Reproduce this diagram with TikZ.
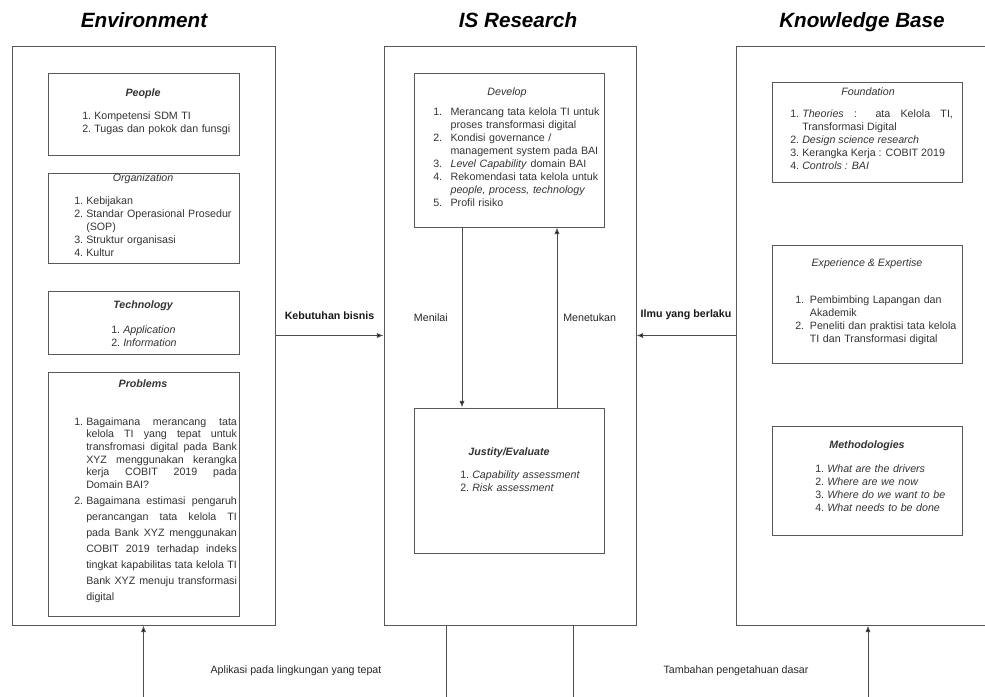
\documentclass[tikz,border=0pt]{standalone}
\usepackage{fontspec}
\setmainfont{Liberation Sans}
\usetikzlibrary{arrows.meta, calc, fit}

\tikzstyle{frame}  = [draw=black!65, line width=0.75pt, inner sep=0pt]
\tikzstyle{head}   = [anchor=base, inner sep=0pt, font=\fontsize{15.5}{19}\selectfont\bfseries\itshape]
\tikzstyle{title}  = [anchor=base, inner sep=0pt, text=black!80, font=\fontsize{8}{10}\selectfont\itshape]
\tikzstyle{btitle} = [title, font=\fontsize{8}{10}\selectfont\bfseries\itshape]
\tikzstyle{list}   = [anchor=base west, inner sep=0pt, align=left, text width=122pt, text=black!80, font=\fontsize{8}{9.75}\selectfont]
\tikzstyle{flow}   = [draw=black!70, line width=0.75pt, -{Latex[length=5pt, width=4pt]}]
\tikzstyle{wire}   = [draw=black!70, line width=0.75pt]
\tikzstyle{lbl}    = [text=black!85, font=\fontsize{8}{10}\selectfont]
\tikzstyle{blbl}   = [text=black!90, font=\fontsize{8}{10}\selectfont\bfseries]

\newlength{\itemind}
\setlength{\itemind}{9pt}
\newcommand{\litem}[2]{\noindent\hangindent=\itemind\hangafter=1\makebox[\itemind][l]{#1.}#2\par}

\begin{document}
\begin{tikzpicture}[x=0.75pt, y=-0.75pt]

\useasboundingbox (0,0) rectangle (985,696);

% headings
\node [head] at (144, 27) (envhead) {Environment};
\node [head] at (518, 27) (ishead)  {IS Research};
\node [head] at (862, 27) (kbhead)  {Knowledge Base};

% outer frames
\node [frame, fit={(12,46) (275,625)}]   (env) {};
\node [frame, fit={(384,46) (636,625)}]  (is)  {};
\node [frame, fit={(736,46) (1000,625)}] (kb)  {};

% environment
\node [frame, fit={(48,73) (239,155)}]  (people)   {};
\node [frame, fit={(48,173) (239,263)}] (org)      {};
\node [frame, fit={(48,291) (239,354)}] (tech)     {};
\node [frame, fit={(48,372) (239,616)}] (problems) {};

\node [btitle] at (143, 96)  (peopletitle)   {People};
\node [title]  at (143, 181) (orgtitle)      {Organization};
\node [btitle] at (143, 308) (techtitle)     {Technology};
\node [btitle] at (143, 387) (problemstitle) {Problems};

\node [list] at (82, 119) (peoplelist) {%
  \litem{1}{Kompetensi SDM TI}
  \litem{2}{Tugas dan pokok dan funsgi}};
\node [list] at (74, 204) (orglist) {%
  \litem{1}{Kebijakan}
  \litem{2}{Standar Operasional Prosedur\newline (SOP)}
  \litem{3}{Struktur organisasi}
  \litem{4}{Kultur}};
\node [list] at (111, 333) (techlist) {%
  \litem{1}{\textit{Application}}
  \litem{2}{\textit{Information}}};
\node [list, align=justify] at (74, 425) (problemslist) {%
  \fontsize{8}{9.5}\selectfont
  \litem{1}{Bagaimana merancang tata\linebreak kelola TI yang tepat untuk\linebreak transfromasi digital pada Bank\linebreak XYZ menggunakan kerangka\linebreak kerja COBIT 2019 pada\linebreak Domain BAI?}
  \fontsize{8}{12}\selectfont
  \litem{2}{Bagaimana estimasi pengaruh\linebreak perancangan tata kelola TI\linebreak pada Bank XYZ menggunakan\linebreak COBIT 2019 terhadap indeks\linebreak tingkat kapabilitas tata kelola TI\linebreak Bank XYZ menuju transformasi\linebreak digital}};

% is research
\node [frame, fit={(414,73) (604,227)}]  (develop) {};
\node [frame, fit={(414,408) (604,553)}] (justify) {};

\node [title]  at (507, 95)  (developtitle) {Develop};
\node [btitle] at (509, 455) (justifytitle) {Justity/Evaluate};

\setlength{\itemind}{13pt}
\node [list, text width=130pt] at (433, 115) (developlist) {%
  \litem{1}{Merancang tata kelola TI untuk\newline proses transformasi digital}
  \litem{2}{Kondisi governance /\newline management system pada BAI}
  \litem{3}{\textit{Level Capability} domain BAI}
  \litem{4}{Rekomendasi tata kelola untuk\newline \textit{people, process, technology}}
  \litem{5}{Profil risiko}};
\setlength{\itemind}{9pt}
\node [list] at (460, 478) (justifylist) {%
  \litem{1}{\textit{Capability assessment}}
  \litem{2}{\textit{Risk assessment}}};

% knowledge base
\node [frame, fit={(772,82) (962,182)}]  (found)  {};
\node [frame, fit={(772,245) (962,363)}] (exper)  {};
\node [frame, fit={(772,426) (962,535)}] (method) {};

\node [title]  at (868, 95)  (foundtitle)  {Foundation};
\node [title]  at (867, 266) (expertitle)  {Experience \& Expertise};
\node [btitle] at (867, 448) (methodtitle) {Methodologies};

\node [list, align=justify] at (790, 117) (foundlist) {%
  \litem{1}{\textit{Theories} : ata Kelola TI,\linebreak Transformasi Digital}
  \litem{2}{\textit{Design science research}}
  \litem{3}{Kerangka Kerja : COBIT 2019}
  \litem{4}{\textit{Controls : BAI}}};
\setlength{\itemind}{11pt}
\node [list] at (795, 303) (experlist) {%
  \litem{1}{Pembimbing Lapangan dan\newline Akademik}
  \litem{2}{Peneliti dan praktisi tata kelola\newline TI dan Transformasi digital}};
\setlength{\itemind}{9pt}
\node [list] at (815, 472) (methodlist) {%
  \litem{1}{\textit{What are the drivers}}
  \litem{2}{\textit{Where are we now}}
  \litem{3}{\textit{Where do we want to be}}
  \litem{4}{\textit{What needs to be done}}};

% free ends at the bottom
\coordinate (envfoot)  at (143.5, 700);
\coordinate (isfootl)  at (446, 700);
\coordinate (isfootr)  at (573, 700);
\coordinate (kbfoot)   at (868, 700);

% edges
\path [flow]
  (env.east)                      edge node [blbl, above=8pt]  {Kebutuhan bisnis}  (is.west)
  (kb.west)                       edge node [blbl, above=8pt]  {Ilmu yang berlaku} (is.east)
  ($(develop.south)+(-47,0)$)     edge node [lbl, left=7pt]    {Menilai}           ($(justify.north)+(-47,0)$)
  ($(justify.north)+(48,0)$)      edge node [lbl, right=1pt]   {Menetukan}         ($(develop.south)+(48,0)$)
  (envfoot)                       edge                                             (env.south)
  (kbfoot)                        edge                                             (kb.south);

\path [wire]
  (is.south -| isfootl) edge (isfootl)
  (is.south -| isfootr) edge (isfootr);

\node [lbl] at (296, 671) (applabel)  {Aplikasi pada lingkungan yang tepat};
\node [lbl] at (736, 671) (addlabel)  {Tambahan pengetahuan dasar};

\end{tikzpicture}
\end{document}
